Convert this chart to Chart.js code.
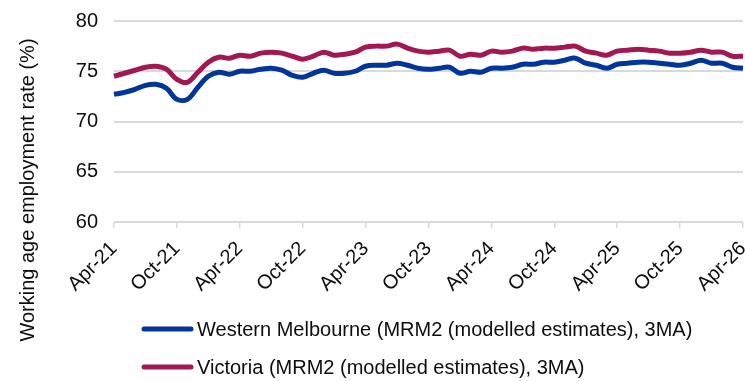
<!DOCTYPE html>
<html>
<head>
<meta charset="utf-8">
<script src="https://cdn.jsdelivr.net/npm/chart.js@4.4.1/dist/chart.umd.min.js"></script>
<style>
  html, body { margin: 0; padding: 0; background: #fff; }
</style>
</head>
<body>
<canvas id="rateChart" width="745" height="381"></canvas>
<script>
// Monthly categories, Apr-21 .. Apr-26
const monthNames = ['Jan', 'Feb', 'Mar', 'Apr', 'May', 'Jun', 'Jul', 'Aug', 'Sep', 'Oct', 'Nov', 'Dec'];
const months = [];
for (let m = 3; m <= 3 + 60; m++) {
    const yr = 21 + Math.floor(m / 12);
    months.push(monthNames[m % 12] + '-' + yr);
}

// Working age employment rate (%), 3-month average
const westernMelbourne = [
    72.7, 72.9, 73.2, 73.6, 73.7, 73.3, 72.2, 72.2, 73.4, 74.5, 74.9, 74.7,
    75.0, 75.0, 75.2, 75.3, 75.1, 74.6, 74.4, 74.8, 75.1, 74.8, 74.8, 75.0,
    75.5, 75.6, 75.6, 75.8, 75.6, 75.3, 75.2, 75.3, 75.4, 74.8, 75.0, 74.9,
    75.3, 75.3, 75.4, 75.7, 75.7, 75.9, 75.9, 76.1, 76.3, 75.8, 75.6, 75.3,
    75.7, 75.8, 75.9, 75.9, 75.8, 75.7, 75.6, 75.8, 76.1, 75.8, 75.8, 75.4,
    75.3
];
const victoria = [
    74.5, 74.8, 75.1, 75.4, 75.5, 75.2, 74.2, 73.9, 74.9, 75.9, 76.4, 76.3,
    76.6, 76.5, 76.8, 76.9, 76.8, 76.5, 76.2, 76.5, 76.9, 76.6, 76.7, 76.9,
    77.4, 77.5, 77.5, 77.7, 77.3, 77.0, 76.9, 77.0, 77.1, 76.5, 76.7, 76.6,
    77.0, 76.9, 77.0, 77.3, 77.2, 77.3, 77.3, 77.4, 77.5, 77.0, 76.8, 76.6,
    77.0, 77.1, 77.2, 77.1, 77.0, 76.8, 76.8, 76.9, 77.1, 76.9, 76.9, 76.5,
    76.5
];

const yMin = 60, yMax = 80, yStep = 5;
const labelEvery = 6;

const FONT = '"Liberation Sans", Arial, sans-serif';
Chart.defaults.font.family = FONT;
Chart.defaults.font.size = 20;
Chart.defaults.color = '#0d0d0d';

/* Legend rows and rotated axis title, drawn after the chart */
const extraText = {
    id: 'extraText',
    afterDraw(chart) {
        const ctx = chart.ctx;
        ctx.save();
        ctx.font = '20px ' + FONT;
        ctx.textBaseline = 'middle';
        ctx.fillStyle = '#0d0d0d';
        chart.data.datasets.forEach((ds, i) => {
            const y = 329 + i * 38;
            ctx.strokeStyle = ds.borderColor;
            ctx.lineWidth = 5;
            ctx.lineCap = 'round';
            ctx.beginPath();
            ctx.moveTo(144, y);
            ctx.lineTo(191, y);
            ctx.stroke();
            ctx.fillText(ds.label, 197, y + 1);
        });

        ctx.translate(28, 190);
        ctx.rotate(-Math.PI / 2);
        ctx.textAlign = 'center';
        ctx.fillText('Working age employment rate (%)', 0, 0);
        ctx.restore();
    }
};

new Chart(document.getElementById('rateChart'), {
    type: 'line',
    data: {
        labels: months,
        datasets: [{
            label: 'Western Melbourne (MRM2 (modelled estimates), 3MA)',
            data: westernMelbourne,
            borderColor: '#00359c',
            borderWidth: 5,
            pointRadius: 0,
            tension: 0.35
        }, {
            label: 'Victoria (MRM2 (modelled estimates), 3MA)',
            data: victoria,
            borderColor: '#a21852',
            borderWidth: 5,
            pointRadius: 0,
            tension: 0.35
        }]
    },
    options: {
        responsive: false,
        animation: false,
        layout: { padding: { top: 21, right: 2, bottom: 0, left: 0 } },
        plugins: {
            legend: { display: false },
            tooltip: { enabled: false }
        },
        scales: {
            x: {
                afterFit: (scale) => {
                    scale.height = 159;
                    scale.paddingLeft = 0;
                    scale.paddingRight = 0;
                },
                border: { display: false },
                grid: {
                    drawOnChartArea: false,
                    drawTicks: true,
                    tickLength: 6,
                    lineWidth: 1.5,
                    color: (c) => (c.index % labelEvery === 0 ? '#d9d9d9' : 'rgba(0,0,0,0)')
                },
                ticks: {
                    autoSkip: false,
                    maxRotation: 45,
                    minRotation: 45,
                    padding: 9,
                    callback: function (value, index) {
                        return index % labelEvery === 0 ? this.getLabelForValue(value) : '';
                    }
                }
            },
            y: {
                min: yMin,
                max: yMax,
                afterFit: (scale) => {
                    scale.width = 114;
                    scale.paddingTop = 0;
                    scale.paddingBottom = 0;
                },
                border: { display: false },
                grid: { color: '#d9d9d9', lineWidth: 2, drawTicks: false },
                ticks: { stepSize: yStep, padding: 16 }
            }
        }
    },
    plugins: [extraText]
});
</script>
</body>
</html>
